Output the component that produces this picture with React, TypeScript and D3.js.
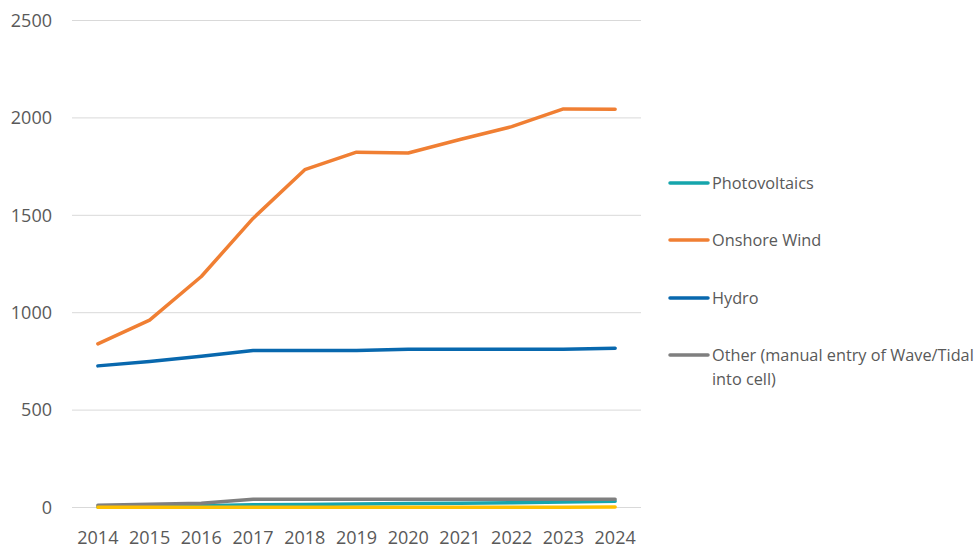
import React from "react";
import * as d3 from "d3";

const years = ["2014","2015","2016","2017","2018","2019","2020","2021","2022","2023","2024"];
const photovoltaics = [3, 6, 9, 14, 16, 18, 20, 22, 24, 28, 32];
const onshoreWind = [840, 962, 1186, 1484, 1734, 1824, 1820, 1889, 1955, 2046, 2044];
const hydro = [727, 750, 777, 806, 806, 806, 813, 813, 813, 813, 818];
const other = [12, 17, 22, 42, 42, 42, 42, 42, 42, 42, 42];
const marine = [1, 1, 1, 1, 1, 1, 1, 1, 1, 1, 2];
const yTicks = [0, 500, 1000, 1500, 2000, 2500];

const series = [
  { name: "Photovoltaics", values: photovoltaics, color: "#16A5AC", legend: true },
  { name: "Onshore Wind", values: onshoreWind, color: "#F07F33", legend: true },
  { name: "Hydro", values: hydro, color: "#0868AE", legend: true },
  { name: "Other (manual entry of Wave/Tidal|into cell)", values: other, color: "#7F7F7F", legend: true },
  { name: "Marine", values: marine, color: "#FFC000", legend: false },
];

export default function App() {
  const W = 979, H = 549;
  const left = 72, right = 641, top = 20.5, bottom = 507.5;
  const x = d3.scaleBand<string>().domain(years).range([left, right]);
  const y = d3.scaleLinear().domain([0, 2500]).range([bottom, top]);
  const line = d3.line<number>()
    .x((_, i) => (x(years[i]) as number) + x.bandwidth() / 2)
    .y((d) => y(d));
  const font = "'Open Sans', 'Noto Sans', sans-serif";
  const legendY = [183, 240, 298, 355];
  const legendItems = series.filter((s) => s.legend);
  return (
    <svg width={W} height={H} style={{ position: "absolute", left: 0, top: 0, background: "#fff" }}>
      {yTicks.map((t) => (
        <g key={t}>
          <line x1={left} x2={right} y1={y(t)} y2={y(t)} stroke="#D9D9D9" strokeWidth={1} />
          <text x={52} y={y(t)} dy="0.35em" textAnchor="end" fontFamily={font} fontSize={18} fill="#595959">{t}</text>
        </g>
      ))}
      {years.map((yr) => (
        <text key={yr} x={(x(yr) as number) + x.bandwidth() / 2} y={538} dy="0.35em" textAnchor="middle" fontFamily={font} fontSize={18} fill="#595959">{yr}</text>
      ))}
      {[0, 2, 3, 1, 4].map((i) => {
        const s = series[i];
        return (
          <path key={s.name} d={line(s.values) as string} fill="none" stroke={s.color} strokeWidth={3.5} strokeLinecap="round" strokeLinejoin="round" />
        );
      })}
      {legendItems.map((s, i) => {
        const ly = legendY[i];
        const lines = s.name.split("|");
        return (
          <g key={s.name}>
            <line x1={670} x2={708} y1={ly} y2={ly} stroke={s.color} strokeWidth={3.5} strokeLinecap="round" />
            {lines.map((t, j) => (
              <text key={j} x={712} y={ly + j * 24} dy="0.35em" fontFamily={font} fontSize={16.3} fill="#595959">{t}</text>
            ))}
          </g>
        );
      })}
    </svg>
  );
}
